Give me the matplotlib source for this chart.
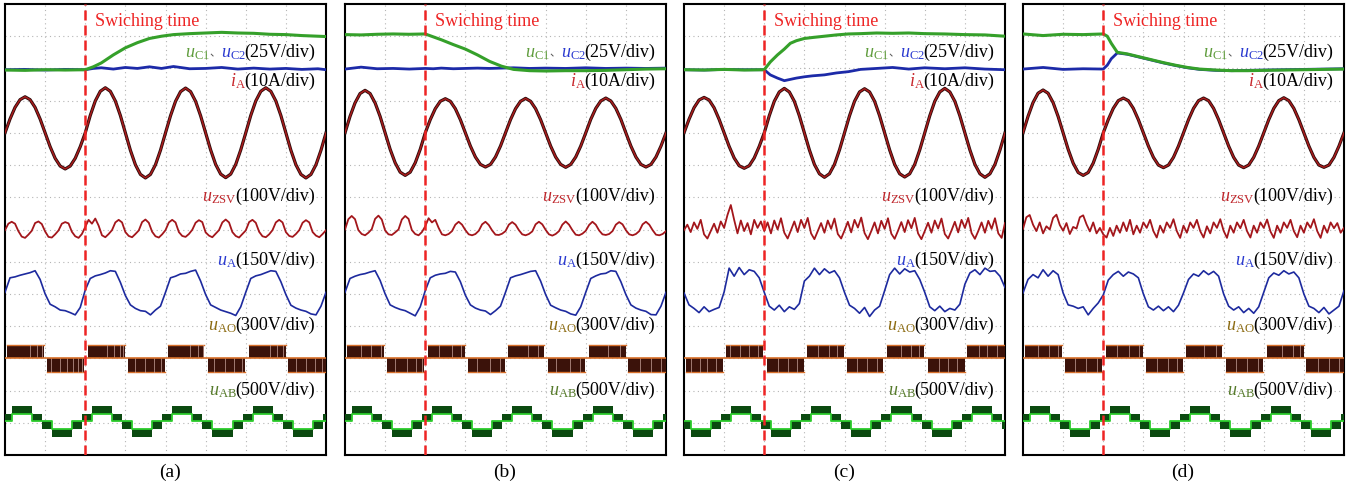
import numpy as np
import matplotlib.pyplot as plt

plt.rcParams['font.family'] = ['Liberation Serif', 'Noto Sans CJK SC']
plt.rcParams['mathtext.fontset'] = 'custom'
plt.rcParams['mathtext.rm'] = 'Liberation Serif'
plt.rcParams['mathtext.it'] = 'Liberation Serif:italic'

# scope screen: 8 horizontal div, 14 vertical div; values below are in divisions
switch_t = 2.0
t_ia = np.linspace(0, 8, 65)    # sample spacing 1/8 div
t_zsv = np.linspace(0, 8, 97)   # sample spacing 1/12 div

# ---- capacitor voltages uC1 / uC2 ----
uc_t_a = [0, 0.5, 1.0, 1.5, 2.0, 2.2, 2.4, 2.7, 3.0, 3.3, 3.6, 3.9, 4.2, 4.6, 5.0, 5.4, 5.8, 6.2, 6.6, 7.0, 7.4, 7.8, 8.0]
uc1_a = [11.95, 11.94, 11.96, 11.95, 11.96, 12.05, 12.17, 12.42, 12.64, 12.80, 12.93, 13.00, 13.05, 13.08, 13.10, 13.12,
         13.10, 13.09, 13.06, 13.05, 13.02, 13.00, 12.99]
uc2_a = [11.96, 11.97, 11.95, 11.97, 11.96, 12.00, 12.02, 11.98, 12.03, 12.00, 12.05, 12.00, 12.06, 11.99, 12.00, 12.03,
         11.98, 12.01, 11.98, 12.00, 11.97, 11.99, 11.96]

uc_t_b = [0, 0.4, 0.8, 1.2, 1.6, 2.0, 2.2, 2.4, 2.7, 3.0, 3.3, 3.6, 3.9, 4.2, 4.6, 5.0, 5.5, 6.0, 6.5, 7.0, 7.5, 8.0]
uc1_b = [13.05, 13.04, 13.06, 13.07, 13.06, 13.07, 12.98, 12.89, 12.74, 12.60, 12.42, 12.22, 12.07, 11.97, 11.93, 11.92,
         11.93, 11.93, 11.94, 11.96, 11.98, 11.99]
uc2_b = [11.98, 12.04, 11.99, 12.00, 11.98, 12.00, 11.99, 12.01, 11.99, 12.00, 12.01, 12.00, 12.01, 12.02, 12.00, 12.01,
         12.00, 12.02, 12.00, 12.01, 12.00, 12.01]

uc_t_c = [0, 0.5, 1.0, 1.5, 2.0, 2.15, 2.33, 2.5, 2.65, 2.8, 3.0, 3.2, 3.5, 3.8, 4.1, 4.4, 4.8, 5.2, 5.6, 6.0, 6.5, 7.0, 7.5, 8.0]
uc1_c = [11.96, 11.95, 11.97, 11.95, 11.96, 12.20, 12.42, 12.60, 12.78, 12.86, 12.93, 12.96, 13.00, 13.04, 13.07, 13.08,
         13.10, 13.09, 13.10, 13.08, 13.07, 13.05, 13.04, 13.00]
uc2_c = [11.96, 11.95, 11.97, 11.96, 11.96, 11.80, 11.70, 11.62, 11.66, 11.70, 11.74, 11.77, 11.80, 11.86, 11.90, 11.97,
         12.00, 12.03, 11.98, 12.02, 11.99, 12.02, 11.98, 11.96]

uc_t_d = [0, 0.5, 1.0, 1.5, 2.0, 2.1, 2.2, 2.35, 2.6, 2.9, 3.2, 3.5, 3.8, 4.1, 4.4, 4.8, 5.2, 5.6, 6.0, 6.5, 7.0, 7.5, 8.0]
uc1_d = [13.07, 13.02, 13.06, 13.05, 13.07, 13.00, 12.78, 12.50, 12.45, 12.36, 12.27, 12.18, 12.10, 12.03, 11.98, 11.95,
         11.93, 11.93, 11.94, 11.95, 11.96, 11.97, 11.98]
uc2_d = [11.98, 12.03, 11.97, 11.99, 11.98, 12.10, 12.30, 12.48, 12.44, 12.35, 12.26, 12.17, 12.09, 12.02, 11.97, 11.94,
         11.93, 11.94, 11.95, 11.96, 11.97, 11.98, 11.99]

# ---- phase current iA ----
ia_a = [10.00, 10.43, 10.79, 11.03, 11.12, 11.03, 10.79, 10.43, 10.00, 9.57, 9.21, 8.97, 8.88, 8.97, 9.21, 9.57,
        10.00, 10.54, 10.99, 11.29, 11.40, 11.29, 10.99, 10.54, 10.00, 9.46, 9.01, 8.71, 8.60, 8.71, 9.01, 9.46,
        10.00, 10.53, 10.98, 11.28, 11.39, 11.28, 10.98, 10.53, 10.00, 9.47, 9.02, 8.72, 8.61, 8.72, 9.02, 9.47,
        10.00, 10.54, 10.99, 11.29, 11.40, 11.29, 10.99, 10.54, 10.00, 9.46, 9.01, 8.71, 8.60, 8.71, 9.01, 9.46,
        10.00]
ia_b = [10.00, 10.51, 10.93, 11.22, 11.32, 11.22, 10.93, 10.51, 10.00, 9.49, 9.07, 8.78, 8.68, 8.78, 9.07, 9.49,
        10.00, 10.41, 10.75, 10.98, 11.06, 10.98, 10.75, 10.41, 10.00, 9.59, 9.25, 9.02, 8.94, 9.02, 9.25, 9.59,
        10.00, 10.41, 10.75, 10.98, 11.07, 10.98, 10.75, 10.41, 10.00, 9.59, 9.25, 9.02, 8.93, 9.02, 9.25, 9.59,
        10.00, 10.42, 10.76, 10.99, 11.08, 10.99, 10.76, 10.42, 10.00, 9.59, 9.25, 9.02, 8.94, 9.02, 9.25, 9.59,
        10.00]
ia_c = [10.00, 10.42, 10.78, 11.02, 11.10, 11.02, 10.78, 10.42, 10.00, 9.58, 9.22, 8.98, 8.90, 8.98, 9.22, 9.58,
        10.00, 10.53, 10.98, 11.27, 11.38, 11.27, 10.98, 10.53, 10.00, 9.47, 9.02, 8.73, 8.62, 8.73, 9.02, 9.47,
        10.00, 10.53, 10.98, 11.27, 11.37, 11.27, 10.98, 10.53, 10.00, 9.47, 9.02, 8.73, 8.63, 8.73, 9.02, 9.47,
        10.00, 10.53, 10.98, 11.27, 11.38, 11.27, 10.98, 10.53, 10.00, 9.47, 9.02, 8.73, 8.62, 8.73, 9.02, 9.47,
        10.00]
ia_d = [10.00, 10.51, 10.94, 11.23, 11.33, 11.23, 10.94, 10.51, 10.00, 9.49, 9.06, 8.77, 8.68, 8.77, 9.06, 9.49,
        10.00, 10.41, 10.76, 11.00, 11.08, 11.00, 10.76, 10.41, 10.00, 9.59, 9.24, 9.00, 8.92, 9.00, 9.24, 9.59,
        10.00, 10.41, 10.76, 11.00, 11.08, 11.00, 10.76, 10.41, 10.00, 9.59, 9.24, 9.00, 8.92, 9.00, 9.24, 9.59,
        10.00, 10.41, 10.76, 11.00, 11.09, 11.00, 10.76, 10.41, 10.00, 9.59, 9.24, 9.00, 8.93, 9.00, 9.24, 9.59,
        10.00]

# ---- zero sequence voltage uZSV ----
zsv_a = [6.98, 7.18, 7.24, 7.18, 6.95, 6.78, 6.74, 6.84,
         6.96, 7.20, 7.25, 7.17, 6.94, 6.77, 6.75, 6.85,
         6.97, 7.18, 7.23, 7.19, 6.93, 6.79, 6.74, 6.86,
         7.08, 7.30, 7.18, 7.34, 7.12, 6.82, 6.76, 6.86,
         6.98, 7.22, 7.30, 7.22, 6.92, 6.80, 6.76, 6.86,
         6.97, 7.23, 7.31, 7.21, 6.93, 6.79, 6.75, 6.85,
         6.98, 7.22, 7.30, 7.22, 6.92, 6.80, 6.77, 6.86,
         6.99, 7.21, 7.29, 7.23, 6.91, 6.81, 6.76, 6.87,
         6.98, 7.22, 7.31, 7.22, 6.92, 6.80, 6.75, 6.86,
         6.97, 7.23, 7.30, 7.21, 6.93, 6.79, 6.76, 6.85,
         6.98, 7.22, 7.30, 7.22, 6.92, 6.80, 6.77, 6.86,
         6.98, 7.21, 7.29, 7.22, 6.92, 6.81, 6.76, 6.86,
         6.98]
zsv_b = [7.00, 7.32, 7.42, 7.32, 6.98, 6.86, 6.82, 6.90,
         7.01, 7.33, 7.43, 7.31, 6.97, 6.85, 6.83, 6.91,
         7.00, 7.31, 7.42, 7.33, 6.98, 6.86, 6.82, 6.92,
         7.10, 7.35, 7.22, 7.30, 7.05, 6.85, 6.82, 6.86,
         6.95, 7.15, 7.24, 7.15, 6.98, 6.85, 6.82, 6.86,
         6.96, 7.16, 7.24, 7.14, 6.97, 6.84, 6.83, 6.87,
         6.95, 7.15, 7.23, 7.15, 6.98, 6.85, 6.82, 6.86,
         6.94, 7.16, 7.24, 7.16, 6.99, 6.85, 6.81, 6.86,
         6.95, 7.15, 7.25, 7.15, 6.98, 6.84, 6.82, 6.87,
         6.96, 7.14, 7.24, 7.15, 6.97, 6.85, 6.83, 6.86,
         6.95, 7.15, 7.23, 7.16, 6.98, 6.85, 6.82, 6.86,
         6.95, 7.16, 7.24, 7.15, 6.98, 6.84, 6.82, 6.86,
         6.95]
zsv_c = [6.98, 7.15, 6.92, 7.22, 7.02, 7.30, 6.85, 6.72,
         6.95, 7.18, 6.90, 7.25, 7.05, 7.45, 7.76, 7.30,
         6.88, 7.28, 6.95, 7.20, 6.85, 7.30, 7.05, 7.25,
         6.95, 7.22, 6.88, 7.28, 7.00, 7.35, 6.90, 6.72,
         6.98, 7.25, 6.92, 7.30, 7.05, 7.36, 6.88, 6.70,
         6.95, 7.20, 6.90, 7.28, 7.02, 7.34, 6.86, 6.72,
         6.97, 7.24, 6.91, 7.30, 7.06, 7.37, 6.89, 6.70,
         6.95, 7.22, 6.88, 7.27, 7.02, 7.35, 6.87, 6.71,
         6.96, 7.23, 6.92, 7.29, 7.04, 7.36, 6.88, 6.70,
         6.95, 7.21, 6.90, 7.28, 7.03, 7.34, 6.86, 6.72,
         6.97, 7.24, 6.91, 7.30, 7.05, 7.36, 6.89, 6.71,
         6.95, 7.22, 6.90, 7.27, 7.02, 7.35, 6.88, 6.74,
         7.20]
zsv_d = [7.02, 7.38, 7.45, 7.15, 6.95, 7.22, 6.88, 7.10,
         7.00, 7.36, 7.46, 7.14, 6.96, 7.20, 6.86, 7.08,
         7.03, 7.38, 7.44, 7.16, 6.94, 7.22, 6.88, 7.05,
         6.85, 6.75, 7.05, 6.80, 7.12, 6.90, 7.22, 6.95,
         7.30, 6.85, 7.12, 6.90, 7.22, 7.05, 7.30, 6.95,
         6.75, 7.12, 6.90, 7.22, 7.05, 7.32, 6.95, 6.74,
         7.12, 6.90, 7.22, 7.05, 7.30, 6.95, 6.75, 7.10,
         6.88, 7.22, 7.05, 7.32, 6.96, 6.74, 7.12, 6.90,
         7.22, 7.04, 7.30, 6.95, 6.75, 7.12, 6.90, 7.22,
         7.05, 7.31, 6.94, 6.74, 7.12, 6.90, 7.22, 7.05,
         7.30, 6.95, 6.76, 7.12, 6.90, 7.22, 7.05, 7.32,
         6.95, 6.74, 7.12, 6.90, 7.22, 7.04, 7.20, 6.90,
         7.05]

# ---- phase voltage uA ----
ua_a = [5.05, 5.50, 5.53, 5.58, 5.62, 5.66, 5.72, 5.45, 5.00, 4.68, 4.60, 4.50, 4.48, 4.42, 4.35, 4.58,
        5.12, 5.48, 5.56, 5.60, 5.65, 5.72, 5.70, 5.36, 4.95, 4.66, 4.55, 4.48, 4.46, 4.35, 4.50, 4.62,
        5.05, 5.50, 5.55, 5.62, 5.64, 5.70, 5.74, 5.40, 4.98, 4.66, 4.58, 4.50, 4.45, 4.40, 4.33, 4.60,
        5.05, 5.48, 5.56, 5.60, 5.66, 5.72, 5.70, 5.38, 4.98, 4.65, 4.56, 4.50, 4.46, 4.38, 4.35, 4.62,
        5.05]
ua_b = [5.05, 5.48, 5.55, 5.60, 5.63, 5.68, 5.72, 5.42, 5.00, 4.66, 4.58, 4.52, 4.48, 4.40, 4.32, 4.60,
        5.10, 5.50, 5.58, 5.62, 5.64, 5.70, 5.68, 5.38, 4.96, 4.66, 4.56, 4.50, 4.47, 4.36, 4.48, 4.62,
        5.05, 5.50, 5.56, 5.60, 5.65, 5.70, 5.72, 5.40, 4.98, 4.65, 4.57, 4.50, 4.46, 4.38, 4.34, 4.60,
        5.05, 5.48, 5.56, 5.62, 5.64, 5.72, 5.70, 5.38, 4.98, 4.66, 4.56, 4.50, 4.46, 4.36, 4.35, 4.62,
        5.05]
ua_c = [5.03, 4.66, 4.55, 4.42, 4.60, 4.45, 4.52, 4.58, 5.06, 5.80, 5.55, 5.82, 5.60, 5.75, 5.70, 5.50,
        5.05, 4.62, 4.50, 4.65, 4.45, 4.60, 4.52, 4.70, 5.40, 5.55, 5.80, 5.60, 5.78, 5.65, 5.72, 5.50,
        5.05, 4.65, 4.55, 4.40, 4.58, 4.30, 4.50, 4.62, 5.10, 5.60, 5.80, 5.62, 5.78, 5.68, 5.72, 5.45,
        5.05, 4.60, 4.48, 4.62, 4.45, 4.55, 4.50, 4.68, 5.30, 5.65, 5.75, 5.60, 5.80, 5.70, 5.72, 5.55,
        5.20]
ua_d = [5.03, 5.45, 5.60, 5.50, 5.75, 5.55, 5.72, 5.60, 5.03, 4.66, 4.62, 4.55, 4.60, 4.35, 4.55, 4.72,
        4.97, 5.43, 5.60, 5.70, 5.55, 5.68, 5.62, 5.50, 5.00, 4.60, 4.50, 4.62, 4.48, 4.60, 4.45, 4.65,
        5.03, 5.45, 5.62, 5.55, 5.72, 5.60, 5.70, 5.55, 5.00, 4.62, 4.50, 4.60, 4.42, 4.55, 4.40, 4.60,
        5.05, 5.50, 5.65, 5.58, 5.72, 5.62, 5.68, 5.50, 5.00, 4.62, 4.55, 4.42, 4.58, 4.38, 4.50, 4.62,
        5.10]

# ---- pole voltage uAO (3-level PWM blocks) ----
ao_levels = [2.58, 3.01, 3.42]   # low, zero, high
ao_start = [0.05, 1.05, 2.07, 3.07, 4.05, 5.05, 6.07, 7.05]
ao_end = [0.98, 1.98, 3.00, 3.98, 4.97, 5.98, 7.00, 8.00]
ao_sign_abd = [1, -1, 1, -1, 1, -1, 1, -1]
ao_sign_c = [-1, 1, -1, 1, -1, 1, -1, 1]
ao_gaps_a = [0.62, 0.80, 0.93, 1.15, 1.38, 1.55, 1.70, 1.82, 1.92, 2.55, 2.72, 2.86, 2.95, 3.25, 3.50, 3.72, 3.90,
             4.62, 4.80, 4.93, 5.20, 5.48, 5.70, 5.90, 6.60, 6.78, 6.92, 7.25, 7.50, 7.72, 7.90]
ao_gaps_b = [0.40, 0.66, 0.90, 1.25, 1.55, 1.78, 1.92, 2.35, 2.66, 2.90, 3.30, 3.62, 3.86,
             4.55, 4.82, 5.25, 5.60, 5.86, 6.55, 6.85, 7.35, 7.62, 7.88]
ao_gaps_c = [0.18, 0.40, 0.58, 0.80, 1.15, 1.40, 1.62, 1.85, 2.35, 2.60, 2.82, 3.35, 3.62, 3.82, 4.30, 4.55,
             4.80, 5.40, 5.65, 5.85, 6.35, 6.58, 6.80, 7.35, 7.55, 7.80]
ao_gaps_d = [0.38, 0.65, 0.88, 1.30, 1.58, 1.85, 2.35, 2.65, 2.90, 3.35, 3.62, 3.85, 4.50, 4.80, 5.30, 5.58,
             5.85, 6.45, 6.72, 6.90, 7.35, 7.62, 7.88]

# ---- line voltage uAB (5-level stepped, band index +-1 / +-2) ----
ab_levels = [0.56, 0.80, 1.04, 1.28, 1.52]
ab_edges = [0, 0.17, 0.67, 0.92, 1.17, 1.67, 1.92, 2.17, 2.67, 2.92, 3.17, 3.67, 3.92, 4.17, 4.67, 4.92, 5.17,
            5.67, 5.92, 6.17, 6.67, 6.92, 7.17, 7.67, 7.92, 8.0]
ab_band_abd = [1, 2, 1, -1, -2, -1, 1, 2, 1, -1, -2, -1, 1, 2, 1, -1, -2, -1, 1, 2, 1, -1, -2, -1, 1]
ab_band_c = [-1, -2, -1, 1, 2, 1, -1, -2, -1, 1, 2, 1, -1, -2, -1, 1, 2, 1, -1, -2, -1, 1, 2, 1, -1]

captions = ['(a)', '(b)', '(c)', '(d)']
panel_left_px = [5, 345, 684, 1023]
caption_x_px = [170, 505, 844, 1183]

panels = [
    (uc_t_a, uc1_a, uc2_a, ia_a, zsv_a, ua_a, ao_sign_abd, ao_gaps_a, ab_band_abd),
    (uc_t_b, uc1_b, uc2_b, ia_b, zsv_b, ua_b, ao_sign_abd, ao_gaps_b, ab_band_abd),
    (uc_t_c, uc1_c, uc2_c, ia_c, zsv_c, ua_c, ao_sign_c, ao_gaps_c, ab_band_c),
    (uc_t_d, uc1_d, uc2_d, ia_d, zsv_d, ua_d, ao_sign_abd, ao_gaps_d, ab_band_abd),
]

W, H = 1359, 487
fig = plt.figure(figsize=(W / 100, H / 100), dpi=100)
renderer = fig.canvas.get_renderer()

c_uc1 = '#35a02a'
c_uc2 = '#1c2aa8'
c_ia = '#a81c1c'
c_zsv = '#a3161b'
c_ua = '#1d2a9e'
c_ao = '#3b120a'
c_ao_line = '#d8702a'
c_ab = '#0b4a10'
c_ab_line = '#2ccc2c'

# (text, colour, fontsize, overlap in px with the piece to its right)
label_parts = [
    (12.36, [(r'$u_{\mathrm{C1}}$', '#5f9c3c', 13, 0), ('、', '#555555', 8, 0),
             (r'$u_{\mathrm{C2}}$', '#2a3ad0', 13, 0), ('(25V/div)', 'k', 13, 2)]),
    (11.46, [(r'$i_{\mathrm{A}}$', '#c8282d', 13, 0), ('(10A/div)', 'k', 13, 2)]),
    (7.89, [(r'$u_{\mathrm{ZSV}}$', '#c0282d', 13, 0), ('(100V/div)', 'k', 13, 2)]),
    (5.90, [(r'$u_{\mathrm{A}}$', '#2a3ad0', 13, 0), ('(150V/div)', 'k', 13, 2)]),
    (3.88, [(r'$u_{\mathrm{AO}}$', '#8b6a10', 13, 0), ('(300V/div)', 'k', 13, 2)]),
    (1.86, [(r'$u_{\mathrm{AB}}$', '#557a2a', 13, 0), ('(500V/div)', 'k', 13, 2)]),
]


def right_label(ax, x, y, parts):
    # draw right-to-left so the last piece ends at x, all on one baseline
    xd = ax.transData.transform((x, y))[0]
    for s, c, fs, ov in reversed(parts):
        xcur = ax.transData.inverted().transform((xd, 0))[0]
        t = ax.text(xcur, y, s, color=c, ha='right', va='baseline', fontsize=fs, zorder=10)
        bb = t.get_window_extent(renderer=renderer)
        xd = bb.x0 + ov


for k, (uc_t, uc1, uc2, ia, zsv, ua, ao_sign, ao_gaps, ab_band) in enumerate(panels):
    ax = fig.add_axes([panel_left_px[k] / W, 32 / H, 321 / W, 451 / H])
    ax.set_xlim(0, 8)
    ax.set_ylim(0, 14)
    ax.set_xticks([])
    ax.set_yticks([])
    for sp in ax.spines.values():
        sp.set_linewidth(1.5)

    # scope graticule
    for xv in range(1, 8):
        ax.axvline(xv, color='#b5b5b5', lw=0.8, ls=(0, (1, 3)), zorder=0)
    for yv in range(1, 14):
        ax.axhline(yv, color='#b5b5b5', lw=0.8, ls=(0, (1, 3)), zorder=0)

    # capacitor voltages
    ax.plot(uc_t, uc2, color=c_uc2, lw=2.0, zorder=3)
    ax.plot(uc_t, uc1, color=c_uc1, lw=2.2, zorder=4)

    # current
    ax.plot(t_ia, ia, color='#2a0a0a', lw=2.3, zorder=3)
    ax.plot(t_ia, ia, color=c_ia, lw=1.1, zorder=4)

    # zero sequence voltage
    ax.plot(t_zsv, zsv, color=c_zsv, lw=1.3, zorder=3)

    # phase voltage
    ax.plot(t_ia, ua, color=c_ua, lw=1.2, zorder=3)

    # pole voltage uAO
    lo, mid, hi = ao_levels
    for s, e, sg in zip(ao_start, ao_end, ao_sign):
        edge = hi if sg > 0 else lo
        ax.fill_between([s, e], mid, edge, color=c_ao, lw=0, zorder=3)
        ax.plot([s, e], [edge, edge], color=c_ao_line, lw=1.0, zorder=4)
    for g in ao_gaps:
        i = int(np.searchsorted(ao_start, g, side='right')) - 1
        edge = hi if ao_sign[i] > 0 else lo
        ax.plot([g, g], [mid, edge], color='#caa49c', lw=0.5, zorder=4)
    ax.plot([0, 8], [mid, mid], color=c_ao_line, lw=1.2, zorder=4)

    # line voltage uAB
    inner = []
    for i, b in enumerate(ab_band):
        if b > 0:
            y0, y1 = ab_levels[1 + b], ab_levels[2 + b]
            inner.append(y0)
        else:
            y0, y1 = ab_levels[2 + b], ab_levels[3 + b]
            inner.append(y1)
        ax.fill_between([ab_edges[i], ab_edges[i + 1]], y0, y1, color=c_ab, lw=0, zorder=3)
    ax.plot(ab_edges, inner + [inner[-1]], drawstyle='steps-post', color=c_ab_line, lw=1.3, zorder=4)

    # switching instant
    ax.axvline(switch_t, color='#ee2424', lw=1.8, ls=(0, (4, 2)), zorder=6)
    ax.text(2.25, 13.32, 'Swiching time', color='#ee2424', fontsize=13, ha='left', va='baseline', zorder=10)

    for y, parts in label_parts:
        right_label(ax, 7.72, y, parts)

    fig.text(caption_x_px[k] / W, (H - 472) / H, captions[k], ha='center', va='center', fontsize=14)

fig.savefig('out.png', dpi=100)
